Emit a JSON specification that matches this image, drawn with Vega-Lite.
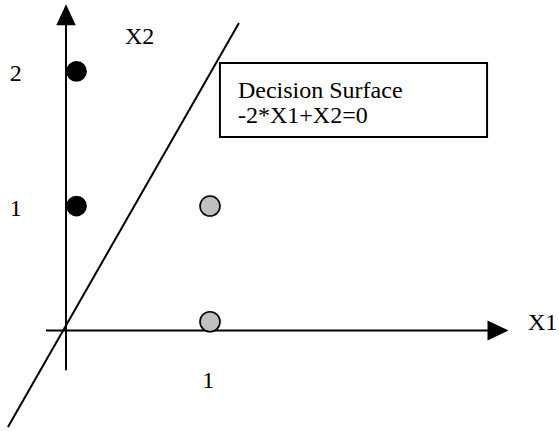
{
  "$schema": "https://vega.github.io/schema/vega-lite/v6.json",
  "width": 559,
  "height": 431,
  "autosize": {"type": "fit", "contains": "padding"},
  "padding": 0,
  "background": "white",
  "config": {"view": {"stroke": null}},
  "datasets": {
    "axes": [
      {"x": 0, "y": -0.32, "x2": 0, "y2": 2.5},
      {"x": -0.139, "y": 0, "x2": 2.95, "y2": 0}
    ],
    "boundary": [
      {"x1": -0.403, "x2": -0.776},
      {"x1": 1.201, "x2": 2.472}
    ],
    "arrows": [
      {"x": 0, "y": 2.538, "dir": "up"},
      {"x": 3.0, "y": 0, "dir": "right"}
    ],
    "box": [
      {"x": 1.069, "x2": 2.924, "y": 1.554, "y2": 2.15}
    ],
    "negative": [
      {"x1": 0.073, "x2": 1.0},
      {"x1": 0.073, "x2": 2.082}
    ],
    "positive": [
      {"x1": 1.0, "x2": 1.0},
      {"x1": 1.0, "x2": 0.07}
    ],
    "labelsLeft": [
      {"label": "X2", "x": 0.41, "y": 2.304},
      {"label": "X1", "x": 3.208, "y": 0.0},
      {"label": "Decision Surface", "x": 1.194, "y": 1.868},
      {"label": "-2*X1+X2=0", "x": 1.194, "y": 1.67}
    ],
    "labelsCenter": [
      {"label": "2", "x": -0.349, "y": 2.002},
      {"label": "1", "x": -0.349, "y": 0.922},
      {"label": "1", "x": 0.988, "y": -0.464}
    ]
  },
  "resolve": {"scale": {"x": "shared", "y": "shared"}},
  "layer": [
    {
      "data": {"name": "axes"},
      "mark": {"type": "rule", "color": "black", "strokeWidth": 2},
      "encoding": {
        "x": {"field": "x", "type": "quantitative", "scale": {"domain": [-0.4583, 3.4236], "nice": false, "zero": false}, "axis": null},
        "y": {"field": "y", "type": "quantitative", "scale": {"domain": [-0.792, 2.656], "nice": false, "zero": false}, "axis": null},
        "x2": {"field": "x2"},
        "y2": {"field": "y2"}
      }
    },
    {
      "data": {"name": "boundary"},
      "mark": {"type": "line", "color": "black", "strokeWidth": 2},
      "encoding": {
        "x": {"field": "x1", "type": "quantitative"},
        "y": {"field": "x2", "type": "quantitative"}
      }
    },
    {
      "data": {"name": "arrows"},
      "mark": {"type": "point", "filled": true, "color": "black", "opacity": 1, "size": 441},
      "encoding": {
        "x": {"field": "x", "type": "quantitative"},
        "y": {"field": "y", "type": "quantitative"},
        "shape": {
          "field": "dir",
          "type": "nominal",
          "scale": {"domain": ["up", "right"], "range": ["M0,-1L0.93,1L-0.93,1Z", "M1,0L-1,0.96L-1,-0.96Z"]},
          "legend": null
        }
      }
    },
    {
      "data": {"name": "box"},
      "mark": {"type": "rect", "fill": "white", "stroke": "black", "strokeWidth": 2},
      "encoding": {
        "x": {"field": "x", "type": "quantitative"},
        "x2": {"field": "x2"},
        "y": {"field": "y", "type": "quantitative"},
        "y2": {"field": "y2"}
      }
    },
    {
      "data": {"name": "negative"},
      "mark": {"type": "circle", "size": 430, "color": "black", "opacity": 1},
      "encoding": {
        "x": {"field": "x1", "type": "quantitative"},
        "y": {"field": "x2", "type": "quantitative"}
      }
    },
    {
      "data": {"name": "positive"},
      "mark": {"type": "circle", "size": 400, "fill": "#c0c0c0", "stroke": "black", "strokeWidth": 1.6, "opacity": 1},
      "encoding": {
        "x": {"field": "x1", "type": "quantitative"},
        "y": {"field": "x2", "type": "quantitative"}
      }
    },
    {
      "data": {"name": "labelsLeft"},
      "mark": {"type": "text", "align": "left", "baseline": "alphabetic", "font": "Liberation Serif", "fontSize": 24, "color": "black"},
      "encoding": {
        "x": {"field": "x", "type": "quantitative"},
        "y": {"field": "y", "type": "quantitative"},
        "text": {"field": "label"}
      }
    },
    {
      "data": {"name": "labelsCenter"},
      "mark": {"type": "text", "align": "center", "baseline": "alphabetic", "font": "Liberation Serif", "fontSize": 24, "color": "black"},
      "encoding": {
        "x": {"field": "x", "type": "quantitative"},
        "y": {"field": "y", "type": "quantitative"},
        "text": {"field": "label"}
      }
    }
  ]
}
